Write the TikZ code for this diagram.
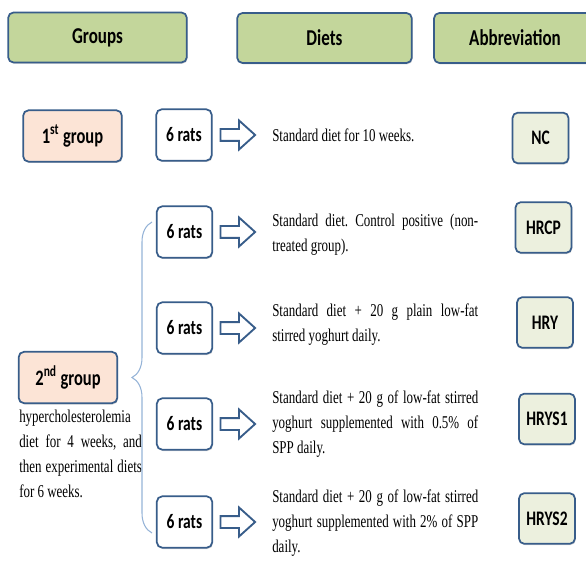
\documentclass[tikz,border=0pt]{standalone}
\usepackage{fontspec}
\setmainfont{Liberation Serif}
\newfontfamily\dietfont[FakeStretch=0.72]{Liberation Serif}
\newfontfamily\boxfont[FakeStretch=0.75]{Carlito}
\usetikzlibrary{positioning,shapes.arrows,shadows,decorations.pathreplacing}
\definecolor{edgeblue}{RGB}{56,93,138}
\definecolor{headgreen}{RGB}{195,214,155}
\definecolor{peach}{RGB}{252,228,214}
\definecolor{abbrgreen}{RGB}{236,240,222}
\definecolor{bracketblue}{RGB}{149,179,215}
\frenchspacing

\begin{document}
\begin{tikzpicture}[x=0.75pt, y=-0.75pt,
  box/.style={draw=edgeblue, line width=1.3pt, rounded corners=4pt, inner sep=2pt,
    font=\boxfont\bfseries\fontsize{15.5}{18}\selectfont,
    drop shadow={shadow xshift=0.6pt, shadow yshift=-1pt, opacity=0.3}},
  headbox/.style={box, fill=headgreen, minimum height=37.5pt, font=\boxfont\bfseries\fontsize{17}{20}\selectfont},
  groupbox/.style={box, fill=peach, minimum width=74pt, minimum height=38.5pt, font=\boxfont\bfseries\fontsize{16.5}{20}\selectfont},
  ratbox/.style={box, fill=white, minimum width=41.5pt, minimum height=38.5pt},
  abbrbox/.style={box, fill=abbrgreen, minimum width=42pt, minimum height=38pt},
  fatarrow/.style={single arrow, draw=edgeblue, fill=white, line width=1.4pt, minimum height=26pt,
    inner xsep=0pt, inner ysep=3.75pt, single arrow head extend=6.4pt, single arrow tip angle=84},
  diet/.style={font=\dietfont\fontsize{13.5}{18.75}\selectfont, text width=154.5pt, align=justify, inner sep=0pt, anchor=west},
]
\useasboundingbox (0,0) rectangle (586,563);
\clip (0,0) rectangle (586,563);

% headers
\node [headbox, minimum width=134pt] (groups) at (97.5,37.5) {Groups};
\node [headbox, minimum width=131pt] (diets) at (324.5,38) {Diets};
\node [headbox, minimum width=121.5pt] (abbr) at (515,38) {Abbreviation};

% 1st group
\node [groupbox] (g1) at (72.5,136) {1\textsuperscript{st} group};
\node [ratbox] (r1) at (184,135) {6 rats};
\node [fatarrow] (a1) at (234.5,135) {};
\node [diet] (d1) at (272,135) {Standard diet for 10 weeks.};
\node [abbrbox] (nc) at (540.5,138) {NC};

% 2nd group
\node [groupbox] (g2) at (68,377.5) {2\textsuperscript{nd} group};
\node [diet, text width=92pt, anchor=north west] (g2txt) at (19,410)
  {hypercholesterolemia\linebreak diet for 4 weeks, and\linebreak then experimental diets\linebreak for 6 weeks.};

\node [ratbox] (r2) at (184.5,232) {6 rats};
\node [ratbox] (r3) at (184.5,328) {6 rats};
\node [ratbox] (r4) at (184.5,424) {6 rats};
\node [ratbox] (r5) at (184.5,522) {6 rats};

\node [fatarrow] (a2) at (234.5,232) {};
\node [fatarrow] (a3) at (234.5,328) {};
\node [fatarrow] (a4) at (234.5,424) {};
\node [fatarrow] (a5) at (234.5,522) {};

\node [diet] (d2) at (272,234.5) {Standard diet. Control positive (non-\linebreak treated group).};
\node [diet] (d3) at (272,324.5) {Standard diet + 20 g plain low-fat\linebreak stirred yoghurt daily.};
\node [diet] (d4) at (272,424) {Standard diet + 20 g of low-fat stirred\linebreak yoghurt supplemented with 0.5\% of\linebreak SPP daily.};
\node [diet] (d5) at (272,523) {Standard diet + 20 g of low-fat stirred\linebreak yoghurt supplemented with 2\% of SPP\linebreak daily.};

\node [abbrbox] (hrcp) at (543.5,227.5) {HRCP};
\node [abbrbox] (hry) at (545,322.5) {HRY};
\node [abbrbox] (hrys1) at (547,419) {HRYS1};
\node [abbrbox] (hrys2) at (547,518.5) {HRYS2};

% brace from 2nd group to its rats
\coordinate (brtop) at (152,222);
\coordinate (brbot) at (152,533);
\draw [bracketblue, line width=0.8pt, decorate, decoration={brace, amplitude=15pt}] (brbot) -- (brtop);

\end{tikzpicture}
\end{document}
